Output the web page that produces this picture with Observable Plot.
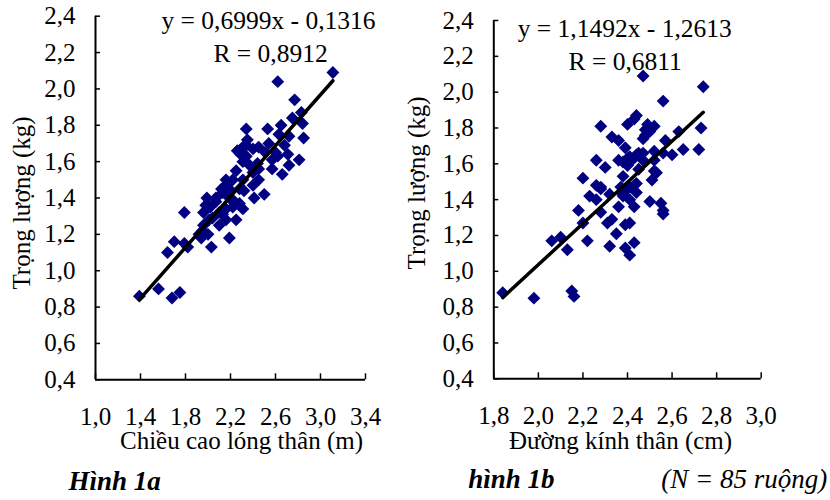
<!DOCTYPE html>
<html><head><meta charset="utf-8">
<script src="https://cdn.jsdelivr.net/npm/d3@7"></script>
<script src="https://cdn.jsdelivr.net/npm/@observablehq/plot@0.6"></script>
<style>
body{margin:0;background:#fff;}
#wrap{display:flex;width:830px;height:500px;}
#wrap svg{overflow:visible;display:block}
</style></head><body><div id="wrap"></div>
<script>
// Hình 1a: chiều cao lóng thân (m) vs trọng lượng (kg)
const chieuCao = [3.11,2.62,2.77,2.83,2.75,2.84,2.85,2.34,2.53,2.65,2.72,2.63,2.35,2.45,2.68,2.26,2.40,2.62,2.81,2.72,
  2.66,2.57,2.31,2.25,2.40,2.45,2.16,2.19,2.32,2.41,2.50,2.07,1.98,1.79,2.13,2.25,2.22,2.31,2.01,2.10,
  1.96,1.70,1.79,1.82,1.64,1.94,2.00,2.03,2.19,1.39,1.56,1.68,1.75,2.34,2.51,2.22,2.16,2.13,2.07,2.02,
  1.96,2.22,2.28,2.16,2.10,2.04,2.16,1.95,1.92,2.57,2.37,2.44,2.31,2.40,2.60,2.71,2.34,2.54,2.31,2.28,
  2.19,2.45,2.29,2.12,1.99];
const trongLuongA = [2.09,2.04,1.94,1.87,1.84,1.81,1.73,1.78,1.78,1.80,1.74,1.75,1.72,1.68,1.69,1.66,1.67,1.63,1.61,1.58,
  1.53,1.61,1.60,1.55,1.54,1.50,1.50,1.45,1.44,1.40,1.42,1.40,1.36,1.32,1.31,1.28,1.35,1.34,1.28,1.25,
  1.25,1.16,1.15,1.13,1.10,1.18,1.20,1.13,1.18,0.86,0.90,0.85,0.88,1.63,1.65,1.50,1.47,1.43,1.38,1.35,
  1.32,1.39,1.37,1.34,1.32,1.29,1.28,1.22,1.20,1.56,1.58,1.59,1.50,1.47,1.65,1.64,1.69,1.70,1.68,1.45,
  1.40,1.56,1.64,1.45,1.40];
// Hình 1b: đường kính thân (cm) vs trọng lượng (kg)
const duongKinh = [2.47,2.74,2.56,2.44,2.43,2.40,2.28,2.49,2.52,2.48,2.50,2.73,2.63,2.33,2.36,2.47,2.57,2.72,2.65,2.60,
  2.56,2.39,2.45,2.41,2.36,2.26,2.30,2.40,2.47,2.52,2.53,2.51,2.38,2.44,2.20,2.28,2.41,2.38,2.23,2.44,
  2.26,2.41,2.36,2.43,2.50,2.55,2.56,2.56,2.18,2.28,2.20,2.31,2.33,2.39,2.41,2.35,2.06,2.10,2.13,2.22,
  2.32,2.39,2.43,2.41,1.84,1.98,2.15,2.16,2.38,2.40,2.44,2.47,2.52,2.52,2.43,2.38,2.40,2.32,2.45,2.42,
  2.37,2.28,2.26,2.48,2.50];
const trongLuongB = [2.09,2.03,1.95,1.87,1.85,1.82,1.81,1.82,1.81,1.79,1.78,1.80,1.78,1.75,1.73,1.74,1.73,1.68,1.68,1.65,
  1.66,1.69,1.66,1.64,1.62,1.62,1.58,1.59,1.62,1.62,1.55,1.51,1.53,1.49,1.52,1.47,1.47,1.43,1.42,1.44,
  1.40,1.40,1.36,1.36,1.39,1.38,1.32,1.34,1.34,1.33,1.27,1.27,1.29,1.26,1.27,1.21,1.17,1.19,1.12,1.17,
  1.14,1.13,1.16,1.09,0.88,0.85,0.89,0.86,1.61,1.63,1.65,1.66,1.67,1.56,1.48,1.42,1.46,1.43,1.57,1.62,
  1.47,1.46,1.48,1.76,1.80];

const yTicks = [0.4,0.6,0.8,1.0,1.2,1.4,1.6,1.8,2.0,2.2,2.4];
const xTicksA = [1.0,1.4,1.8,2.2,2.6,3.0,3.4];
const xTicksB = [1.8,2.0,2.2,2.4,2.6,2.8,3.0];
const slopeA = 0.6999, interceptA = -0.1316, eqA = "y = 0,6999x - 0,1316", rA = "R = 0,8912";
const slopeB = 1.1492, interceptB = -1.2613, eqB = "y = 1,1492x - 1,2613", rB = "R = 0,6811";
const yTitle = "Trọng lượng (kg)";
const xTitleA = "Chiều cao lóng thân (m)", xTitleB = "Đường kính thân (cm)";
const capA = "Hình 1a", capB = "hình 1b", capN = "(N = 85 ruộng)";

const fmt = d => d.toFixed(1).replace(".", ",");
const FONT = "'Liberation Serif','Times New Roman',serif";

function panel(cfg) {
  const data = cfg.xs.map((x, i) => ({x, y: cfg.ys[i]}));
  const fit = d3.extent(cfg.xs).map(x => ({x, y: cfg.slope * x + cfg.intercept}));
  return Plot.plot({
    width: cfg.width, height: 500,
    marginLeft: cfg.ml, marginRight: cfg.mr, marginTop: cfg.mt, marginBottom: cfg.mb,
    style: {fontFamily: FONT, fontSize: "25px", color: "black", background: "white", overflow: "visible"},
    x: {domain: [cfg.xTicks[0], cfg.xTicks[cfg.xTicks.length - 1]]},
    y: {domain: [yTicks[0], yTicks[yTicks.length - 1]]},
    marks: [
      Plot.axisY({ticks: yTicks, tickFormat: fmt, tickSize: -5, tickPadding: 25, strokeWidth: 1.5, label: null, fontSize: 25}),
      Plot.axisX({ticks: cfg.xTicks, tickFormat: fmt, tickSize: -6, tickPadding: 33.5, strokeWidth: 1.5, label: null, fontSize: 25}),
      Plot.ruleX([cfg.xTicks[0]], {strokeWidth: 2}),
      Plot.ruleY([yTicks[0]], {strokeWidth: 2}),
      Plot.dot(data, {x: "x", y: "y", symbol: "diamond2", r: 5.8, fill: "#000080", stroke: "none"}),
      Plot.line(fit, {x: "x", y: "y", stroke: "black", strokeWidth: 3.5}),
      Plot.text([cfg.eq], {text: d => d, frameAnchor: "top", textAnchor: "middle", lineAnchor: "middle", dx: cfg.eqDx, dy: cfg.eqDy, fontSize: 25.5}),
      Plot.text([cfg.r], {text: d => d, frameAnchor: "top", textAnchor: "middle", lineAnchor: "middle", dx: cfg.rDx, dy: cfg.rDy, fontSize: 25.5}),
      Plot.text([yTitle], {text: d => d, frameAnchor: "left", rotate: -90, textAnchor: "middle", lineAnchor: "middle", dx: cfg.ytDx, dy: cfg.ytDy, fontSize: 25}),
      Plot.text([cfg.xTitle], {text: d => d, frameAnchor: "bottom", textAnchor: "middle", lineAnchor: "middle", dx: cfg.xtDx, dy: cfg.xtDy, fontSize: 25}),
      ...cfg.captions.map(c => Plot.text([c.t], {text: d => d, frameAnchor: c.anchor, textAnchor: c.ta, lineAnchor: "middle", dx: c.dx, dy: c.dy, fontSize: 27, fontWeight: c.bold ? "bold" : "normal", fontStyle: "italic"}))
    ]
  });
}

const wrap = document.getElementById("wrap");
wrap.appendChild(panel({
  xs: chieuCao, ys: trongLuongA, xTicks: xTicksA, slope: slopeA, intercept: interceptA,
  width: 400, ml: 95, mr: 35, mt: 15.7, mb: 120.7,
  eq: eqA, r: rA, eqDx: 38, eqDy: 4.6, rDx: 40, rDy: 38,
  ytDx: -73.5, ytDy: 5, xTitle: xTitleA, xtDx: 11, xtDy: 61.5,
  captions: [{t: capA, anchor: "bottom-left", ta: "start", dx: -27, dy: 102, bold: true}]
}));
wrap.appendChild(panel({
  xs: duongKinh, ys: trongLuongB, xTicks: xTicksB, slope: slopeB, intercept: interceptB,
  width: 430, ml: 93.3, mr: 69.3, mt: 20, mb: 121.7,
  eq: eqB, r: rB, eqDx: -2.7, eqDy: 8, rDx: -2.3, rDy: 41.3,
  ytDx: -76.8, ytDy: -16.7, xTitle: xTitleB, xtDx: -7, xtDy: 62.5,
  captions: [
    {t: capB, anchor: "bottom-left", ta: "start", dx: -25.6, dy: 101, bold: true},
    {t: capN, anchor: "bottom-right", ta: "end", dx: 66, dy: 101, bold: false}
  ]
}));
</script></body></html>
